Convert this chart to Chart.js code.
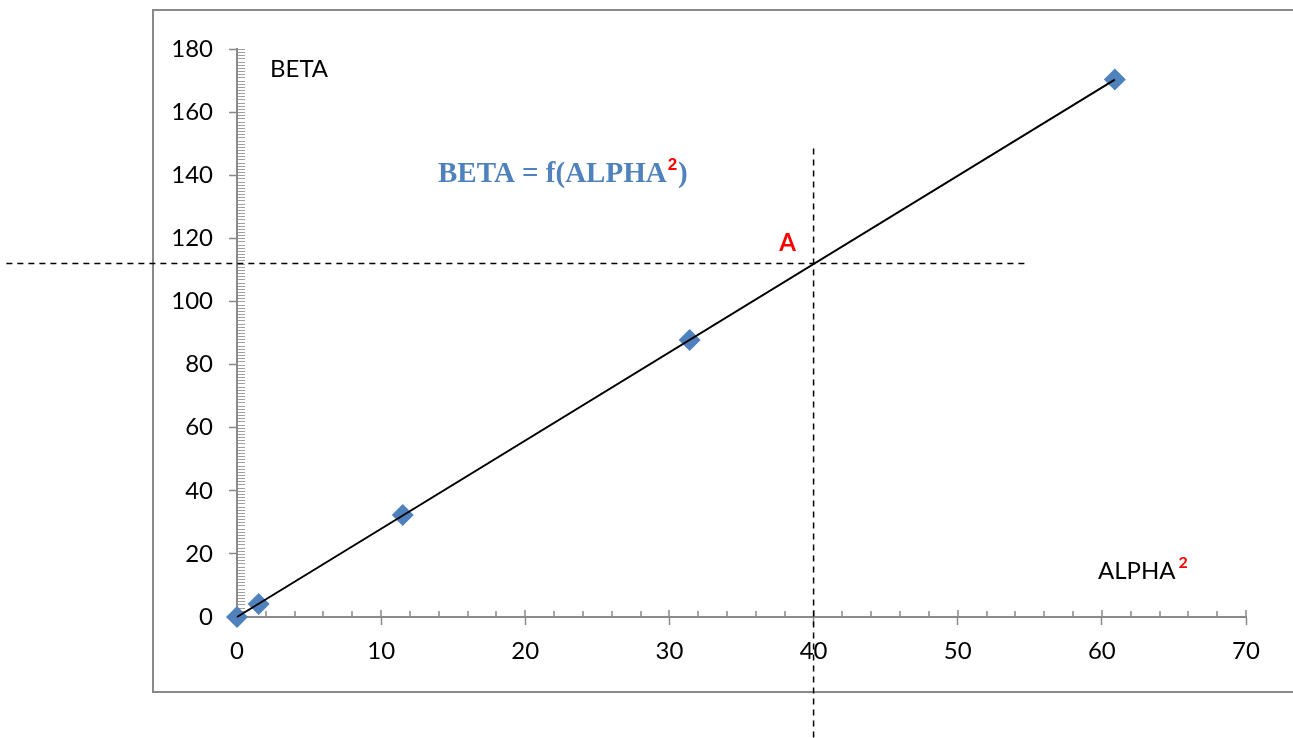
<!DOCTYPE html>
<html>
<head>
<meta charset="utf-8">
<script src="https://cdn.jsdelivr.net/npm/chart.js@4/dist/chart.umd.min.js"></script>
<style>
  html, body { margin: 0; padding: 0; background: #fff; }
</style>
</head>
<body>
<canvas id="myChart" width="1293" height="738"></canvas>
<script>
// measured points: ALPHA^2 vs BETA
const alphaSq = [0, 1.5, 11.5, 31.4, 60.9];
const beta = [0, 4.1, 32.3, 87.8, 170.3];
// straight line through the points (ends)
const fitAlpha = [0, 60.9];
const fitBeta = [0, 170.3];
// point A and the extent of its dashed guide lines
const pointA = { x: 40, y: 112 };
const guideAlpha = [-16, 54.7];
const guideBeta = [148.5, -38.5];
const xTicks = [0, 10, 20, 30, 40, 50, 60, 70];
const yTicks = [0, 20, 40, 60, 80, 100, 120, 140, 160, 180];

const axisGrey = '#898989';
const blue = '#4F81BD';
Chart.defaults.font.family = 'Lato';

const toXY = (xs, ys) => xs.map((x, i) => ({ x: x, y: ys[i] }));

const decor = {
    id: 'decor',
    beforeDraw(chart) {
        const c = chart.ctx;
        c.save();
        c.strokeStyle = axisGrey;
        c.lineWidth = 2;
        c.beginPath();
        c.moveTo(1300, 10);
        c.lineTo(153, 10);
        c.lineTo(153, 692);
        c.lineTo(1300, 692);
        c.stroke();
        c.restore();
    },
    beforeDatasetsDraw(chart) {
        const c = chart.ctx;
        const xs = chart.scales.x;
        const ys = chart.scales.y;
        const x0 = xs.getPixelForValue(0);
        const y0 = ys.getPixelForValue(0);
        c.save();
        // minor ticks on y (right side)
        c.strokeStyle = '#a0a0a0';
        c.lineWidth = 1;
        c.beginPath();
        for (let v = 0; v <= 180; v++) {
            const py = Math.round(ys.getPixelForValue(v)) + 0.5;
            c.moveTo(x0 + 1, py);
            c.lineTo(x0 + 8, py);
        }
        c.stroke();
        // ticks above x axis
        c.strokeStyle = axisGrey;
        c.lineWidth = 1.5;
        c.beginPath();
        for (let v = 2; v <= 70; v += 2) {
            const px = Math.round(xs.getPixelForValue(v));
            c.moveTo(px, y0);
            c.lineTo(px, y0 - (v % 10 === 0 ? 7 : 6));
        }
        c.stroke();

        // texts
        c.textBaseline = 'alphabetic';
        c.textAlign = 'left';
        c.fillStyle = '#000';
        c.font = '24px Lato';
        c.fillText('BETA', x0 + 33, ys.getPixelForValue(180) + 28);
        c.fillText('ALPHA', 1098, 579);
        const wAlpha = c.measureText('ALPHA').width;
        c.fillStyle = '#ff0000';
        c.font = 'bold 16px Lato';
        c.fillText('2', 1098 + wAlpha + 3, 568);

        c.font = 'bold 29px "Liberation Serif"';
        c.fillStyle = blue;
        const t1 = 'BETA = f(ALPHA';
        c.fillText(t1, 438, 182);
        const w1 = c.measureText(t1).width;
        c.font = 'bold 17px "Liberation Sans"';
        c.fillStyle = '#ff0000';
        c.fillText('2', 438 + w1 + 1, 170);
        const w2 = c.measureText('2').width;
        c.font = 'bold 29px "Liberation Serif"';
        c.fillStyle = blue;
        c.fillText(')', 438 + w1 + w2 + 2, 182);

        c.fillStyle = '#ff0000';
        c.font = 'bold 24px Lato';
        c.textAlign = 'center';
        c.fillText('A', xs.getPixelForValue(pointA.x) - 26, ys.getPixelForValue(pointA.y) - 13);
        c.restore();
    }
};

new Chart(document.getElementById('myChart'), {
    type: 'scatter',
    data: {
        datasets: [
            {
                data: toXY(guideAlpha, [pointA.y, pointA.y]),
                showLine: true,
                borderColor: '#000',
                borderWidth: 1.5,
                borderDash: [6, 5],
                pointRadius: 0,
                clip: false,
            },
            {
                data: toXY([pointA.x, pointA.x], guideBeta),
                showLine: true,
                borderColor: '#000',
                borderWidth: 1.5,
                borderDash: [6, 5],
                pointRadius: 0,
                clip: false,
            },
            {
                data: toXY(fitAlpha, fitBeta),
                showLine: true,
                borderColor: '#000',
                borderWidth: 2,
                pointRadius: 0,
                clip: false,
            },
            {
                data: toXY(alphaSq, beta),
                pointStyle: 'rectRot',
                pointRadius: 11,
                backgroundColor: blue,
                borderColor: blue,
                borderWidth: 0,
                clip: false,
            },
        ],
    },
    options: {
        responsive: false,
        animation: false,
        devicePixelRatio: 1,
        layout: { padding: { left: 0, top: 49, right: 47, bottom: 0 } },
        plugins: { legend: { display: false }, tooltip: { enabled: false } },
        scales: {
            x: {
                type: 'linear',
                min: 0,
                max: 70,
                afterBuildTicks: (s) => { s.ticks = xTicks.map(v => ({ value: v })); },
                afterFit: (s) => { s.height = 121; },
                grid: { drawOnChartArea: false, tickLength: 8, color: axisGrey, tickWidth: 1.5 },
                border: { color: axisGrey, width: 2 },
                ticks: { color: '#000', font: { size: 24 }, padding: 12 },
            },
            y: {
                type: 'linear',
                min: 0,
                max: 180,
                afterBuildTicks: (s) => { s.ticks = yTicks.map(v => ({ value: v })); },
                afterFit: (s) => { s.width = 237; },
                grid: { drawOnChartArea: false, tickLength: 8, color: axisGrey, tickWidth: 1.5 },
                border: { color: axisGrey, width: 2 },
                ticks: { color: '#000', font: { size: 24 }, padding: 16 },
            },
        },
    },
    plugins: [decor],
});
</script>
</body>
</html>
